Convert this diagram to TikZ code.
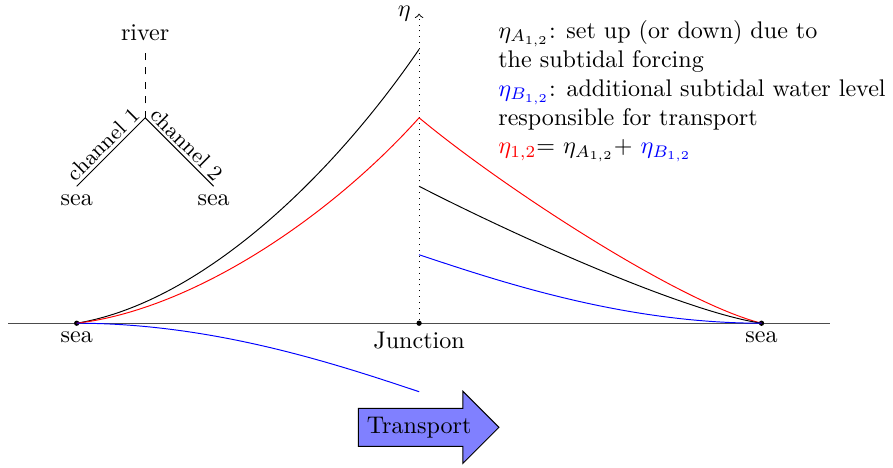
\documentclass[tikz,border=0pt]{standalone}
\usepackage{xcolor}
\usepackage{tikz}
\usetikzlibrary{shapes.arrows}

\begin{document}
\begin{tikzpicture}[
    dot/.style={circle, fill, inner sep=0pt, minimum size=2.2pt},
    lbl/.style={font=\small, midway, above, sloped, inner sep=1.2pt},
    arr/.style={single arrow, draw, fill=blue!50}]
    \useasboundingbox (-6.12,-2.10) rectangle (6.92,4.72);
    % sketch of the two channels
    \coordinate (mj) at (-4,3);
    \node[above] (river) at (-4,4) {river};
    \node[below] (s1) at (-5,2) {sea};
    \node[below] (s2) at (-3,2) {sea};
    \draw[dashed] (mj) -- (river);
    \draw (s1.north) -- node[lbl] {channel 1} (mj);
    \draw (mj) -- node[lbl] {channel 2} (s2.north);
    % axis
    \draw[black!70] (-6,0) -- (6,0);
    \node[dot] (sl) at (-5,0) {};
    \node[dot] (j) at (0,0) {};
    \node[dot] (sr) at (5,0) {};
    \node[below] (seal) at (sl) {sea};
    \node[below] (junc) at (j) {Junction};
    \node[below] (sear) at (sr) {sea};
    \coordinate (etop) at (0,4.52);
    \draw[dotted, ->] (j) -- (etop);
    \node[left] (eta) at (etop) {$\eta$};
    % water levels
    \coordinate (bk) at (0,4);
    \coordinate (rd) at (0,3);
    \coordinate (bk2) at (0,2);
    \coordinate (bl) at (0,1);
    \coordinate (bl2) at (0,-1);
    \draw (sl.center) .. controls (-3.2,0.3) and (-1.3,2.1) .. (bk);
    \draw[red] (sl.center) .. controls (-3.3,0.2) and (-1.3,1.55) .. (rd);
    \draw[red] (rd) .. controls (1.2,2.0) and (3.8,0.3) .. (sr.center);
    \draw (bk2) .. controls (1.2,1.38) and (3.8,0.18) .. (sr.center);
    \draw[blue] (bl) .. controls (1.2,0.6) and (3,0) .. (sr.center);
    \draw[blue] (sl.center) .. controls (-3,0) and (-1.2,-0.6) .. (bl2);
    \node[arr] (tr) at (0,-1.52) {Transport};
    % legend
    \node[anchor=north west, align=left, inner sep=0pt] (leg) at (1.15,4.43) {%
      $\eta_{A_{1,2}}$: set up (or down) due to\\
      the subtidal forcing\\
      {\color{blue}$\eta_{B_{1,2}}$}: additional subtidal water level\\
      responsible for transport\\
      {\color{red}$\eta_{1,2}$}$=$ $\eta_{A_{1,2}}$$+$ {\color{blue}$\eta_{B_{1,2}}$}};
\end{tikzpicture}
\end{document}
